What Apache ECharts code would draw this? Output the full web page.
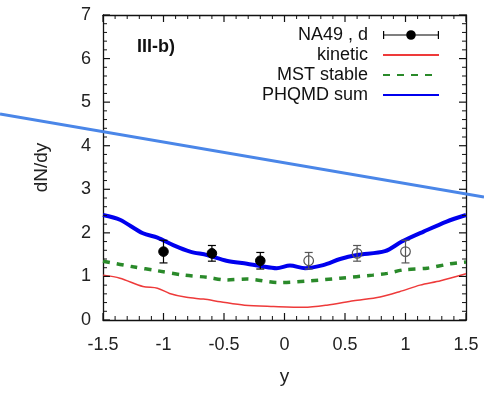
<!DOCTYPE html>
<html>
<head>
<meta charset="utf-8">
<script src="https://cdn.jsdelivr.net/npm/echarts@6/dist/echarts.min.js"></script>
<style>
html,body{margin:0;padding:0;background:#fff;}
#chart{width:484px;height:393px;}
</style>
</head>
<body>
<div id="chart"></div>
<script>
// ---- data ----
const na49Y = [-1.0, -0.6, -0.2, 0.2, 0.6, 1.0];
const na49Val = [1.57, 1.53, 1.36, 1.36, 1.53, 1.57];
const na49Err = [0.26, 0.18, 0.19, 0.19, 0.18, 0.26];
const na49Reflected = [false, false, false, true, true, true];

const kineticY = [-1.5, -1.36, -1.17, -1.05, -0.95, -0.81, -0.67, -0.53, -0.33, -0.09, 0.16, 0.35, 0.57, 0.79, 0.95, 1.12, 1.29, 1.5];
const kineticVal = [1.03, 0.96, 0.77, 0.73, 0.61, 0.52, 0.48, 0.42, 0.34, 0.31, 0.29, 0.34, 0.44, 0.53, 0.65, 0.80, 0.90, 1.06];

const mstY = [-1.5, -1.25, -1.05, -0.83, -0.64, -0.48, -0.31, -0.05, 0.21, 0.46, 0.73, 0.85, 0.98, 1.18, 1.37, 1.5];
const mstVal = [1.35, 1.22, 1.13, 1.03, 0.98, 0.92, 0.94, 0.86, 0.90, 0.96, 1.03, 1.07, 1.15, 1.19, 1.29, 1.33];

const sumY = [-1.5, -1.36, -1.17, -1.05, -0.92, -0.78, -0.64, -0.48, -0.31, -0.20, -0.065, 0.045, 0.17, 0.32, 0.46, 0.60, 0.83, 0.97, 1.15, 1.34, 1.5];
const sumVal = [2.41, 2.30, 1.99, 1.89, 1.72, 1.57, 1.49, 1.36, 1.29, 1.24, 1.19, 1.25, 1.19, 1.26, 1.40, 1.49, 1.58, 1.80, 2.03, 2.26, 2.41];

const xTicks = [-1.5, -1, -0.5, 0, 0.5, 1, 1.5];
const yTicks = [0, 1, 2, 3, 4, 5, 6, 7];
const minorPerMajor = 5;

const seriesNames = ['NA49 , d', 'kinetic', 'MST stable', 'PHQMD sum'];
const panelLabel = 'III-b)';

// ---- chart ----
const FONT = '"Liberation Sans", Arial, sans-serif';
const chart = echarts.init(document.getElementById('chart'), null, {renderer: 'canvas'});

const zip = (a, b) => a.map((v, i) => [v, b[i]]);
const pointData = na49Y.map((y, i) => [y, na49Val[i], na49Err[i], na49Reflected[i] ? 1 : 0]);

const xMin = xTicks[0], xMax = xTicks[xTicks.length - 1];
const yMin = yTicks[0], yMax = yTicks[yTicks.length - 1];

// tick mark rows: [kind(0=x,1=y), xValue, yValue, major(1/0)]
function tickRows(ticks, kind) {
  const rows = [];
  for (let i = 0; i < ticks.length; i++) {
    const v = ticks[i];
    rows.push(kind === 0 ? [0, v, yMin, 1] : [1, xMin, v, 1]);
    if (i < ticks.length - 1) {
      const step = (ticks[i + 1] - v) / minorPerMajor;
      for (let k = 1; k < minorPerMajor; k++) {
        const m = +(v + step * k).toFixed(6);
        rows.push(kind === 0 ? [0, m, yMin, 0] : [1, xMin, m, 0]);
      }
    }
  }
  return rows;
}
const tickData = tickRows(xTicks, 0).concat(tickRows(yTicks, 1));

const mkLine = () => ({show: true, onZero: false, lineStyle: {color: '#111', width: 1.3}});
const labelStyle = () => ({color: '#222', fontFamily: FONT, fontSize: 18});

const errIcon = 'path://M0,6.4H56V7.6H0Z M0,3H1.2V11H0Z M54.8,3H56V11H54.8Z M28,2.2A4.8,4.8 0 1 1 27.99,2.2Z';
const hideSym = {color: 'rgba(0,0,0,0)', borderColor: 'rgba(0,0,0,0)', borderWidth: 0};

const option = {
  animation: false,
  backgroundColor: '#fff',
  grid: {left: 103, right: 18, top: 15, bottom: 73, containLabel: false},
  title: {
    text: panelLabel, left: 132, top: 33,
    textStyle: {fontFamily: FONT, fontSize: 18, fontWeight: 'bold', color: '#111'}
  },
  legend: {
    orient: 'vertical', right: 39, top: 20, align: 'right',
    itemWidth: 56, itemHeight: 14, itemGap: 0,
    textStyle: {fontFamily: FONT, fontSize: 18, color: '#111', lineHeight: 20, padding: [0, 10, 0, 0]},
    data: [
      {name: seriesNames[0], icon: errIcon, itemStyle: {color: '#000'}},
      {name: seriesNames[1], itemStyle: hideSym},
      {name: seriesNames[2], itemStyle: hideSym},
      {name: seriesNames[3], itemStyle: hideSym}
    ]
  },
  xAxis: [{
    type: 'value', min: xMin, max: xMax, interval: 0.5,
    name: 'y', nameLocation: 'middle', nameGap: 47,
    nameTextStyle: {fontFamily: FONT, fontSize: 19, color: '#222'},
    axisLine: mkLine(), axisTick: {show: false}, minorTick: {show: false},
    splitLine: {show: false},
    axisLabel: Object.assign({margin: 16, formatter: v => String(v)}, labelStyle())
  }, {
    type: 'value', position: 'top', min: xMin, max: xMax, interval: 0.5,
    axisLine: mkLine(), axisTick: {show: false}, splitLine: {show: false}, axisLabel: {show: false}
  }],
  yAxis: [{
    type: 'value', min: yMin, max: yMax, interval: 1,
    name: 'dN/dy', nameLocation: 'middle', nameGap: 52, nameRotate: 90,
    nameTextStyle: {fontFamily: FONT, fontSize: 19, color: '#222'},
    axisLine: mkLine(), axisTick: {show: false}, minorTick: {show: false},
    splitLine: {show: false},
    axisLabel: Object.assign({margin: 12}, labelStyle())
  }, {
    type: 'value', position: 'right', min: yMin, max: yMax, interval: 1,
    axisLine: mkLine(), axisTick: {show: false}, splitLine: {show: false}, axisLabel: {show: false}
  }],
  series: [
    {
      name: seriesNames[1], type: 'line', data: zip(kineticY, kineticVal),
      showSymbol: false, symbol: 'none', smooth: 0.3,
      lineStyle: {color: '#ee3a3a', width: 1.5}, itemStyle: {color: '#ee3a3a'}, z: 3
    },
    {
      name: seriesNames[2], type: 'line', data: zip(mstY, mstVal),
      showSymbol: false, symbol: 'none', smooth: 0.3,
      lineStyle: {color: '#2a8a2a', width: 3.5, type: [7, 7]}, itemStyle: {color: '#2a8a2a'}, z: 3
    },
    {
      name: seriesNames[3], type: 'line', data: zip(sumY, sumVal),
      showSymbol: false, symbol: 'none', smooth: 0.3,
      lineStyle: {color: '#0000ee', width: 4}, itemStyle: {color: '#0000ee'}, z: 4
    },
    {
      name: seriesNames[0], type: 'custom', data: pointData, z: 6,
      itemStyle: {color: '#000'},
      renderItem: function (params, api) {
        const x = api.value(0), v = api.value(1), e = api.value(2), open = api.value(3) === 1;
        const c = api.coord([x, v]);
        const t = api.coord([x, v + e]);
        const b = api.coord([x, v - e]);
        const col = open ? '#555' : '#000';
        const cap = 4;
        return {
          type: 'group',
          children: [
            {type: 'line', shape: {x1: c[0], y1: t[1], x2: c[0], y2: b[1]}, style: {stroke: col, lineWidth: 1.2}},
            {type: 'line', shape: {x1: c[0] - cap, y1: t[1], x2: c[0] + cap, y2: t[1]}, style: {stroke: col, lineWidth: 1.2}},
            {type: 'line', shape: {x1: c[0] - cap, y1: b[1], x2: c[0] + cap, y2: b[1]}, style: {stroke: col, lineWidth: 1.2}},
            {type: 'circle', shape: {cx: c[0], cy: c[1], r: 4.8},
              style: open ? {fill: 'rgba(255,255,255,0)', stroke: col, lineWidth: 1.2} : {fill: '#000', stroke: '#000', lineWidth: 1}}
          ]
        };
      }
    },
    {
      name: '__ticks', type: 'custom', data: tickData, z: 8, silent: true,
      encode: {x: 1, y: 2},
      renderItem: function (params, api) {
        const kind = api.value(0), xv = api.value(1), yv = api.value(2), major = api.value(3) === 1;
        const len = major ? 7 : 4;
        const st = {stroke: '#111', lineWidth: major ? 1.2 : 1};
        if (kind === 0) {
          const b = api.coord([xv, yMin]);
          const t = api.coord([xv, yMax]);
          return {type: 'group', children: [
            {type: 'line', shape: {x1: b[0], y1: b[1], x2: b[0], y2: b[1] - len}, style: st},
            {type: 'line', shape: {x1: t[0], y1: t[1], x2: t[0], y2: t[1] + len}, style: st}
          ]};
        }
        const l = api.coord([xMin, yv]);
        const r = api.coord([xMax, yv]);
        return {type: 'group', children: [
          {type: 'line', shape: {x1: l[0], y1: l[1], x2: l[0] + len, y2: l[1]}, style: st},
          {type: 'line', shape: {x1: r[0], y1: r[1], x2: r[0] - len, y2: r[1]}, style: st}
        ]};
      }
    }
  ],
  graphic: [{
    type: 'line', z: 100, silent: true,
    shape: {x1: 0, y1: 114, x2: 484, y2: 197},
    style: {stroke: '#4a86e8', lineWidth: 3}
  }]
};
chart.setOption(option);
</script>
</body>
</html>
